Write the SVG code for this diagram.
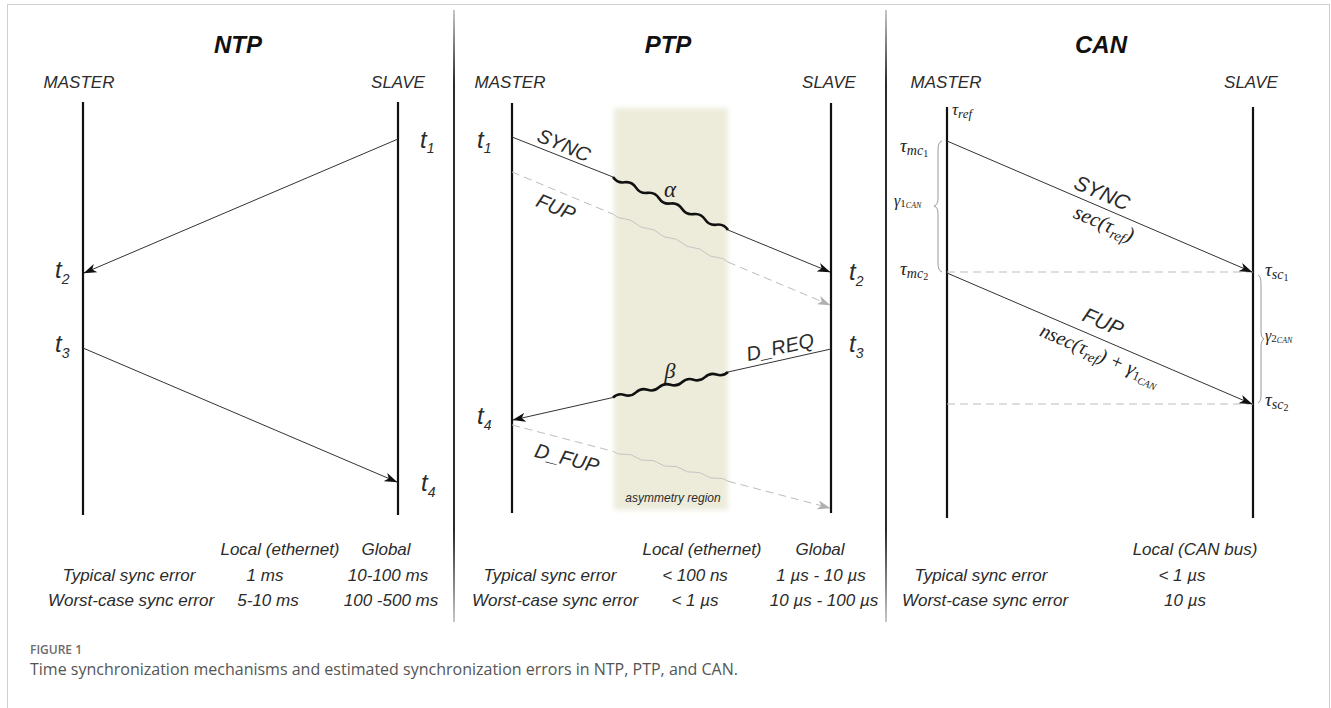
<svg xmlns="http://www.w3.org/2000/svg" width="1331" height="708" viewBox="0 0 1331 708">
<defs>
<style>
.lbl{font-family:"Liberation Sans",Arial,Helvetica,sans-serif;font-style:italic;fill:#2b2b2b}
.title{font-weight:bold;font-size:24px;fill:#111}
.role{font-size:17px;text-anchor:middle}
.tab{font-size:17px;text-anchor:middle}
.t{font-size:24px}
.sub{font-size:14px}
.math{font-family:"Liberation Serif","DejaVu Serif",serif;font-style:italic;fill:#222}
.life{stroke:#111;stroke-width:2.2}
.msg{stroke:#333;stroke-width:1;fill:none}
.dash{stroke:#bdbdbd;stroke-width:1;stroke-dasharray:8 5;fill:none}
.wave{stroke:#111;stroke-width:2.6;fill:none;stroke-linejoin:round}
.wthin{stroke:#c4c4c4;stroke-width:1;fill:none}
.brace{stroke:#9a9a9a;stroke-width:1;fill:none}
.cap{font-family:"Open Sans","Noto Sans","Liberation Sans",sans-serif}
</style>
<marker id="ah" viewBox="0 0 13 10" refX="12.5" refY="5" markerWidth="13" markerHeight="10" markerUnits="userSpaceOnUse" orient="auto">
<path d="M0,0.5 L13,5 L0,9.5 L3.5,5 z" fill="#111"/>
</marker>
<marker id="ahg" viewBox="0 0 13 10" refX="12.5" refY="5" markerWidth="13" markerHeight="10" markerUnits="userSpaceOnUse" orient="auto">
<path d="M0,0.5 L13,5 L0,9.5 L3.5,5 z" fill="#b0b0b0"/>
</marker>
<linearGradient id="divg" gradientUnits="userSpaceOnUse" x1="0" y1="10" x2="0" y2="622">
<stop offset="0" stop-color="#c8c8c8"/>
<stop offset="0.12" stop-color="#2a2a2a"/>
<stop offset="0.85" stop-color="#2a2a2a"/>
<stop offset="1" stop-color="#c8c8c8"/>
</linearGradient>
<filter id="soft" x="-20%" y="-10%" width="140%" height="120%">
<feGaussianBlur stdDeviation="2.5"/>
</filter>
</defs>

<rect x="0" y="0" width="1331" height="708" fill="#fff"/>
<rect x="7.5" y="4.5" width="1322" height="720" fill="none" stroke="#cfcfcf" stroke-width="1"/>

<g id="dividers">
<line x1="454" y1="10" x2="454" y2="622" stroke="url(#divg)" stroke-width="2"/>
<line x1="886" y1="10" x2="886" y2="622" stroke="url(#divg)" stroke-width="2"/>
</g>

<!-- NTP -->
<g id="ntp">
<text class="lbl title" x="238" y="53" text-anchor="middle">NTP</text>
<g id="ntp-master"><text class="lbl role" x="79" y="88">MASTER</text><line class="life" x1="83" y1="102" x2="83" y2="515"/></g>
<g id="ntp-slave"><text class="lbl role" x="398" y="88">SLAVE</text><line class="life" x1="398" y1="102" x2="398" y2="515"/></g>
<text class="lbl t" x="420" y="148">t<tspan class="sub" dy="5">1</tspan></text>
<text class="lbl t" x="55" y="278">t<tspan class="sub" dy="6">2</tspan></text>
<text class="lbl t" x="55" y="352">t<tspan class="sub" dy="6">3</tspan></text>
<text class="lbl t" x="421" y="491">t<tspan class="sub" dy="6">4</tspan></text>
<g id="ntp-table">
<text class="lbl tab" x="280" y="555">Local (ethernet)</text>
<text class="lbl tab" x="386" y="555">Global</text>
<text class="lbl tab" x="129" y="581">Typical sync error</text>
<text class="lbl tab" x="265" y="581">1 ms</text>
<text class="lbl tab" x="388" y="581">10-100 ms</text>
<text class="lbl tab" x="131" y="606">Worst-case sync error</text>
<text class="lbl tab" x="268" y="606">5-10 ms</text>
<text class="lbl tab" x="391" y="606">100 -500 ms</text>
</g>
</g>

<!-- PTP -->
<g id="ptp">
<rect id="asym" x="614" y="108" width="114" height="402" fill="#EDECDB" filter="url(#soft)"/>
<text class="lbl" x="673" y="502" font-size="12" text-anchor="middle" fill="#444">asymmetry region</text>
<text class="lbl title" x="668" y="53" text-anchor="middle">PTP</text>
<g id="ptp-master"><text class="lbl role" x="510" y="88">MASTER</text><line class="life" x1="512" y1="103" x2="512" y2="513"/></g>
<g id="ptp-slave"><text class="lbl role" x="829" y="88">SLAVE</text><line class="life" x1="831" y1="103" x2="831" y2="513"/></g>
<text class="lbl t" x="477" y="148">t<tspan class="sub" dy="5">1</tspan></text>
<text class="lbl t" x="849" y="280">t<tspan class="sub" dy="6">2</tspan></text>
<text class="lbl t" x="849" y="352">t<tspan class="sub" dy="6">3</tspan></text>
<text class="lbl t" x="477" y="424">t<tspan class="sub" dy="6">4</tspan></text>
<text class="math" x="670" y="197" font-size="23" text-anchor="middle">α</text>
<text class="math" x="670" y="378" font-size="22" text-anchor="middle" fill="#444">β</text>
<g transform="translate(564,145) rotate(22.9)"><text class="lbl" font-size="20" x="0" y="7" text-anchor="middle">SYNC</text></g>
<g transform="translate(556,207) rotate(22.6)"><text class="lbl" font-size="20" x="0" y="7" text-anchor="middle">FUP</text></g>
<g transform="translate(780,347) rotate(-12.5)"><text class="lbl" font-size="20" x="0" y="7" text-anchor="middle">D_REQ</text></g>
<g transform="translate(567,458) rotate(14.6)"><text class="lbl" font-size="20" x="0" y="7" text-anchor="middle">D_FUP</text></g>
<g id="ptp-table">
<text class="lbl tab" x="702" y="555">Local (ethernet)</text>
<text class="lbl tab" x="820" y="555">Global</text>
<text class="lbl tab" x="550" y="581">Typical sync error</text>
<text class="lbl tab" x="695" y="581">&lt; 100 ns</text>
<text class="lbl tab" x="821" y="581">1 µs - 10 µs</text>
<text class="lbl tab" x="555" y="606">Worst-case sync error</text>
<text class="lbl tab" x="695" y="606">&lt; 1 µs</text>
<text class="lbl tab" x="824" y="606">10 µs - 100 µs</text>
</g>
</g>

<!-- CAN -->
<g id="can">
<text class="lbl title" x="1101" y="53" text-anchor="middle">CAN</text>
<g id="can-master"><text class="lbl role" x="946" y="88">MASTER</text><line class="life" x1="947" y1="107" x2="947" y2="518"/></g>
<g id="can-slave"><text class="lbl role" x="1251" y="88">SLAVE</text><line class="life" x1="1253" y1="107" x2="1253" y2="518"/></g>
<text class="math" x="952" y="115" font-size="17">τ<tspan font-size="13" dy="3">ref</tspan></text>
<text class="math" x="900" y="152" font-size="19">τ<tspan font-size="14" dy="3">mc</tspan><tspan font-size="10" dy="2" font-style="normal">1</tspan></text>
<text class="math" x="900" y="275" font-size="19">τ<tspan font-size="14" dy="3">mc</tspan><tspan font-size="10" dy="2" font-style="normal">2</tspan></text>
<text class="math" x="1265" y="276" font-size="19">τ<tspan font-size="14" dy="3">sc</tspan><tspan font-size="10" dy="2" font-style="normal">1</tspan></text>
<text class="math" x="1265" y="406" font-size="19">τ<tspan font-size="14" dy="3">sc</tspan><tspan font-size="10" dy="2" font-style="normal">2</tspan></text>
<text class="math" x="894" y="206" font-size="16" fill="#8a8a8a">γ<tspan font-size="11" dy="1" font-style="normal">1</tspan><tspan font-size="8" dy="1">CAN</tspan></text>
<text class="math" x="1265" y="341" font-size="16" fill="#8a8a8a">γ<tspan font-size="11" dy="1" font-style="normal">2</tspan><tspan font-size="8" dy="1">CAN</tspan></text>
<path class="brace" d="M942,141 Q938,142 938,150 L938,198 Q938,205 934,206 Q938,207 938,214 L938,263 Q938,271 942,272"/>
<path class="brace" d="M1258,275 Q1261,276 1261,284 L1261,331 Q1261,338 1264,339 Q1261,340 1261,347 L1261,395 Q1261,402 1258,403"/>
<g transform="translate(1102,193) rotate(23.2)"><text class="lbl" font-size="21" x="0" y="7" text-anchor="middle">SYNC</text></g>
<g transform="translate(1103,226) rotate(23.2)"><text class="math" font-size="21" x="0" y="4" text-anchor="middle">sec(τ<tspan font-size="14" dy="4">ref</tspan><tspan dy="-4">)</tspan></text></g>
<g transform="translate(1103,322) rotate(23.2)"><text class="lbl" font-size="21" x="0" y="7" text-anchor="middle">FUP</text></g>
<g transform="translate(1099,357) rotate(23.2)"><text class="math" font-size="20" x="0" y="4" text-anchor="middle">nsec(τ<tspan font-size="14" dy="4">ref</tspan><tspan dy="-4">) + γ</tspan><tspan font-size="13" dy="3" font-style="normal">1</tspan><tspan font-size="10" dy="2">CAN</tspan></text></g>
<g id="can-table">
<text class="lbl tab" x="1195" y="555">Local (CAN bus)</text>
<text class="lbl tab" x="981" y="581">Typical sync error</text>
<text class="lbl tab" x="1182" y="581">&lt; 1 µs</text>
<text class="lbl tab" x="985" y="606">Worst-case sync error</text>
<text class="lbl tab" x="1185" y="606">10 µs</text>
</g>
</g>

<g id="connectors">
<!-- NTP -->
<line class="msg" x1="398" y1="139" x2="84" y2="273" marker-end="url(#ah)"/>
<line class="msg" x1="83" y1="348" x2="397" y2="482" marker-end="url(#ah)"/>
<!-- PTP SYNC -->
<path class="msg" d="M512,137 L613,177"/>
<path class="wave" d="M613,177 Q617.07,183.28 624.5,182.3 T636,187.6 T647.5,192.9 T659,198.2 T670.5,203.5 T682,208.8 T693.5,214.1 T705,219.4 T716.5,224.7 T728,230"/>
<path class="msg" d="M728,230 L830,272" marker-end="url(#ah)"/>
<!-- PTP FUP -->
<path class="dash" d="M512,172 L613,214.1"/>
<path class="wthin" d="M613,214.1 Q617.8,218.8 624.5,218.9 T636,223.7 T647.5,228.5 T659,233.3 T670.5,238.1 T682,242.9 T693.5,247.7 T705,252.5 T716.5,257.3 T728,262.1"/>
<path class="dash" d="M728,262.1 L830,305" marker-end="url(#ahg)"/>
<!-- PTP D_REQ -->
<path class="msg" d="M831,349 L728,372"/>
<path class="wave" d="M728,372 Q723,376.7 716.5,374.55 T705,377.1 T693.5,379.65 T682,382.2 T670.5,384.75 T659,387.3 T647.5,389.85 T636,392.4 T624.5,394.95 T613,397.5"/>
<path class="msg" d="M613,397.5 L513,420" marker-end="url(#ah)"/>
<!-- PTP D_FUP -->
<path class="dash" d="M512,425 L613,451.3"/>
<path class="wthin" d="M613,451.3 Q618.1,455.2 624.5,454.3 T636,457.3 T647.5,460.3 T659,463.3 T670.5,466.3 T682,469.2 T693.5,472.2 T705,475.2 T716.5,478.2 T728,481.2"/>
<path class="dash" d="M728,481.2 L830,508" marker-end="url(#ahg)"/>
<!-- CAN -->
<line class="dash" x1="947" y1="272" x2="1253" y2="272" stroke-dasharray="6 4"/>
<line class="dash" x1="947" y1="404" x2="1253" y2="404" stroke-dasharray="6 4"/>
<line class="msg" x1="947" y1="141" x2="1252" y2="272" marker-end="url(#ah)"/>
<line class="msg" x1="947" y1="273" x2="1252" y2="404" marker-end="url(#ah)"/>
</g>

<g id="caption">
<text class="cap" x="30" y="654" font-size="12" font-weight="600" fill="#6b6b6b">FIGURE 1</text>
<text class="cap" x="30" y="675" font-size="16" fill="#555">Time synchronization mechanisms and estimated synchronization errors in NTP, PTP, and CAN.</text>
</g>
</svg>
